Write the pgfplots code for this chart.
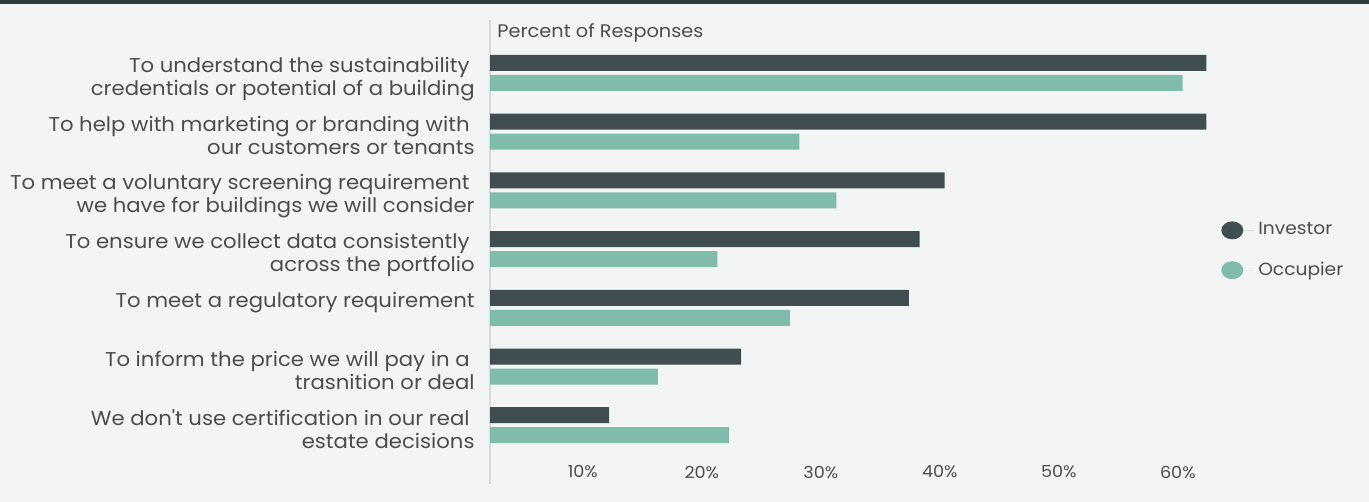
\documentclass[border=0pt]{standalone}
\usepackage{pgfplots}
\pgfplotsset{compat=1.18}
\usepackage{fontspec}
\setmainfont{Poppins}[FakeStretch=1.06]
\definecolor{inv}{HTML}{404E51}
\definecolor{occ}{HTML}{7FBCAB}
\definecolor{bg}{HTML}{F3F5F4}
\definecolor{txt}{HTML}{4C4C4C}
\definecolor{topbar}{HTML}{2B3A3B}
\definecolor{axl}{HTML}{D8DAD9}
\newcommand{\tr}{\hspace*{2.5pt}}
\begin{document}
\begin{tikzpicture}
\useasboundingbox (0,0) rectangle (684.5pt,251pt);
\fill[bg] (0,0) rectangle (684.5pt,251pt);
\fill[topbar] (0,249pt) rectangle (684.5pt,251pt);
\node[anchor=west, inner sep=0pt, text=txt, font=\fontsize{9.1}{11}\selectfont] at (248.5pt,234.5pt) {Percent of Responses};
\begin{axis}[
  at={(245pt,9pt)}, anchor=south west,
  scale only axis,
  width=373.66pt, height=232.06pt,
  xmin=2.2, xmax=65,
  ymin=-1, ymax=6.9,
  xbar, bar width=8pt,
  axis lines*=left,
  axis line style={-},
  x axis line style={draw=none},
  y axis line style={draw=axl, line width=0.6pt},
  major tick length=0pt,
  xtick={10,20,30,40,50,60},
  xticklabels={10\%,20\%,30\%,40\%,50\%,60\%},
  xticklabel style={anchor=center, yshift=6pt, inner sep=0pt, text=txt, font=\fontsize{8.3}{10}\selectfont},
  ytick={0,1,2,3,4,5,6},
  yticklabels={
    {We don\textquotesingle t use certification in our real\tr\\estate decisions},
    {To inform the price we will pay in a\tr\\trasnition or deal},
    {To meet a regulatory requirement},
    {To ensure we collect data consistently\tr\\across the portfolio},
    {To meet a voluntary screening requirement\tr\\we have for buildings we will consider},
    {To help with marketing or branding with\tr\\our customers or tenants},
    {To understand the sustainability\tr\\credentials or potential of a building}},
  yticklabel style={anchor=north east, align=right, inner sep=0pt, xshift=-7.5pt, yshift=8pt, text=txt, font=\fontsize{10}{11.5}\selectfont},
  legend style={at={(axis description cs:0.978,0.503)}, anchor=west, draw=none, fill=none, inner sep=0pt, row sep=8pt, font=\fontsize{8.8}{10}\selectfont, text=txt, cells={anchor=west}},
  legend image code/.code={\fill[#1, draw=none] (5.5pt,0pt) ellipse (5.5pt and 4.5pt); \path (0pt,0pt) -- (16.5pt,0pt);},
]
\addplot[fill=inv, draw=none, bar shift=5pt] coordinates {
  (62.4,6) (62.4,5) (40.4,4) (38.3,3) (37.4,2) (23.3,1) (12.2,0)};
\addplot[fill=occ, draw=none, bar shift=-5pt] coordinates {
  (60.4,6) (28.2,5) (31.3,4) (21.3,3) (27.4,2) (16.3,1) (22.3,0)};
\legend{Investor, Occupier}
\end{axis}
\end{tikzpicture}
\end{document}
